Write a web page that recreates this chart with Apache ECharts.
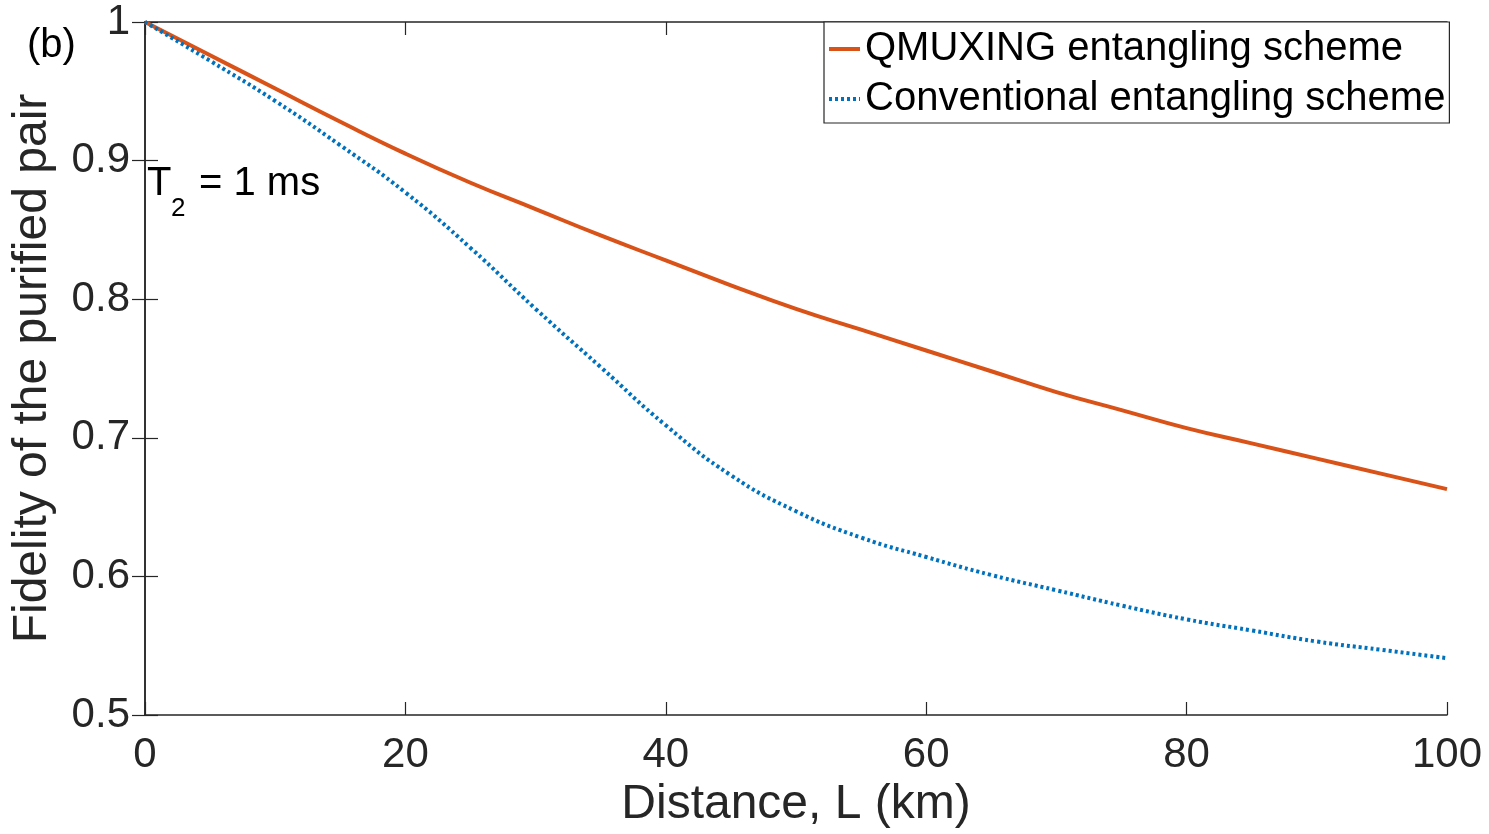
<!DOCTYPE html>
<html>
<head>
<meta charset="utf-8">
<script src="https://cdn.jsdelivr.net/npm/echarts@6/dist/echarts.min.js"></script>
<style>
  html, body { margin: 0; padding: 0; background: #fff; }
  #chart { width: 1489px; height: 834px; }
</style>
</head>
<body>
<div id="chart"></div>
<script>
// values (distance in km, fidelity)
var distanceKm = [0, 5, 10, 15, 20, 25, 30, 35, 40, 45, 50, 55, 60, 65, 70, 75, 80, 85, 90, 95, 100];
var qmuxingFidelity = [1.0, 0.976, 0.952, 0.928, 0.905, 0.884, 0.865, 0.846, 0.828, 0.810, 0.793,
  0.778, 0.763, 0.748, 0.733, 0.720, 0.707, 0.696, 0.685, 0.674, 0.663];
var conventionalFidelity = [1.0, 0.972, 0.943, 0.911, 0.877, 0.837, 0.793, 0.751, 0.709, 0.673, 0.647,
  0.628, 0.614, 0.601, 0.590, 0.579, 0.569, 0.561, 0.553, 0.547, 0.541];
var seriesNames = ['QMUXING entangling scheme', 'Conventional entangling scheme'];
var xTicks = { min: 0, max: 100, interval: 20 };
var yTicks = { min: 0.5, max: 1, interval: 0.1 };

var ink = '#262626';
var font = '"Liberation Sans", Arial, Helvetica, sans-serif';
var orange = '#D95319';
var blue = '#0072BD';

function pairs(xs, ys) {
  return xs.map(function(x, i) { return [x, ys[i]]; });
}

var chart = echarts.init(document.getElementById('chart'), null, { renderer: 'canvas' });

// plain box edges (top / right) with inward ticks, like the MATLAB frame
function frameAxis(extra) {
  return Object.assign({
    type: 'value',
    axisLine: { show: true, lineStyle: { color: ink, width: 1.5 } },
    axisTick: { show: true, inside: true, length: 13, lineStyle: { color: ink, width: 1.2 } },
    axisLabel: { show: false },
    splitLine: { show: false }
  }, extra);
}

chart.setOption({
  animation: false,
  backgroundColor: '#fff',
  textStyle: { fontFamily: font, color: ink },
  grid: { left: 145, right: 42, top: 22, bottom: 119 },
  legend: {
    left: 824,
    top: 22,
    orient: 'vertical',
    backgroundColor: '#fff',
    borderColor: ink,
    borderWidth: 1.2,
    borderRadius: 0,
    padding: [5, 4, 2, 3],
    itemGap: 6,
    itemWidth: 31,
    itemHeight: 20,
    itemStyle: { opacity: 0 },
    lineStyle: { width: 4 },
    textStyle: { fontSize: 40, lineHeight: 44, color: '#000', fontFamily: font },
    data: seriesNames
  },
  xAxis: [
    frameAxis({
      min: xTicks.min, max: xTicks.max, interval: xTicks.interval,
      position: 'bottom',
      name: 'Distance, L (km)',
      nameLocation: 'middle',
      nameGap: 64,
      nameTextStyle: { fontSize: 48, color: ink, fontFamily: font },
      axisLabel: { show: true, fontSize: 42, color: ink, margin: 19, fontFamily: font }
    }),
    frameAxis({
      min: xTicks.min, max: xTicks.max, interval: xTicks.interval,
      position: 'top'
    })
  ],
  yAxis: [
    frameAxis({
      min: yTicks.min, max: yTicks.max, interval: yTicks.interval,
      position: 'left',
      name: 'Fidelity of the purified pair',
      nameLocation: 'middle',
      nameGap: 88,
      nameTextStyle: { fontSize: 48, color: ink, fontFamily: font },
      axisLabel: { show: true, fontSize: 42, color: ink, margin: 15, fontFamily: font }
    }),
    frameAxis({
      min: yTicks.min, max: yTicks.max, interval: yTicks.interval,
      position: 'right'
    })
  ],
  series: [
    {
      name: seriesNames[0],
      type: 'line',
      smooth: true,
      symbol: 'none',
      data: pairs(distanceKm, qmuxingFidelity),
      lineStyle: { color: orange, width: 4 },
      itemStyle: { color: orange },
      z: 3
    },
    {
      name: seriesNames[1],
      type: 'line',
      smooth: true,
      symbol: 'none',
      data: pairs(distanceKm, conventionalFidelity),
      lineStyle: { color: blue, width: 4, type: [3, 3], cap: 'butt' },
      itemStyle: { color: blue },
      z: 4
    }
  ],
  graphic: [
    { type: 'text', left: 27, top: 26, style: { text: '(b)', fill: '#000', font: '40px ' + font } },
    { type: 'text', left: 147, top: 164, style: { text: 'T', fill: '#000', font: '40px ' + font } },
    { type: 'text', left: 171, top: 196, style: { text: '2', fill: '#000', font: '26px ' + font } },
    { type: 'text', left: 199, top: 164, style: { text: '= 1 ms', fill: '#000', font: '40px ' + font } }
  ]
});
window.addEventListener('resize', function() { chart.resize(); });
</script>
</body>
</html>
